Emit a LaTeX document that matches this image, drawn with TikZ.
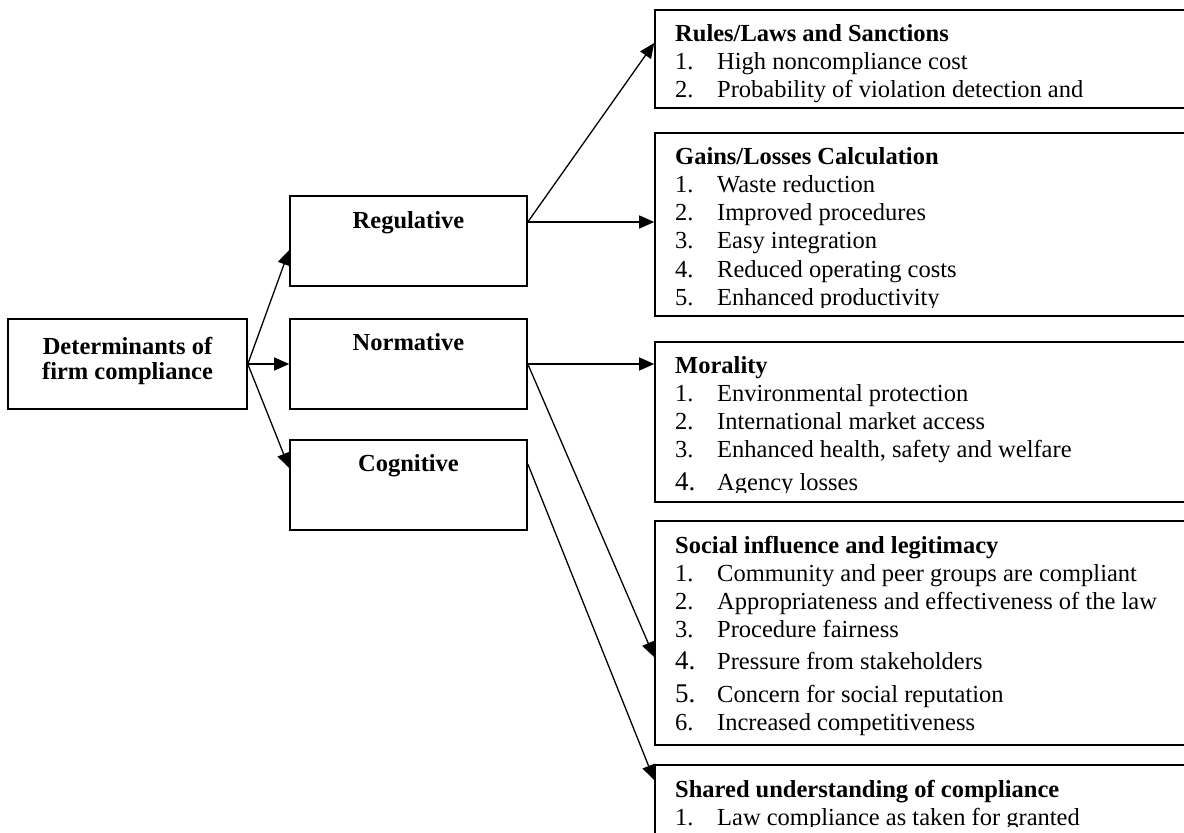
\documentclass[tikz,border=0pt]{standalone}
\usepackage{fontspec}
\setmainfont{Liberation Serif}
\usetikzlibrary{arrows.meta,calc}
% one numbered row of a list: number column, then the item text
\newcommand\listrow[2]{#1 & #2\\}
\newcommand\bignum[1]{{\fontsize{27}{28.3}\selectfont #1}}
\begin{document}
\begin{tikzpicture}[x=1pt,y=-1pt,
  box/.style={draw, line width=1.6pt, rectangle, inner sep=0pt},
  leftbox/.style={box, minimum width=237pt, minimum height=90pt},
  rightbox/.style={box, minimum width=545pt},
  conn/.style={line width=1.3pt, -{Triangle[length=15pt,width=13pt]}},
  head/.style={anchor=base, inner sep=0pt, font=\fontsize{24.5}{25}\selectfont\bfseries},
  listtext/.style={anchor=base west, inner sep=0pt, font=\fontsize{24.5}{28.3}\selectfont}]
\useasboundingbox (0,0) rectangle (1184,833);
\clip (0,0) rectangle (1184,833);

% --- left column: root and the three pillars ---
\node[box, minimum width=239pt, minimum height=90pt] (det) at (127.5,364) {};
\node[head] (dett) at (127.5,354) {\begin{tabular}[t]{@{}c@{}}Determinants of\\firm compliance\end{tabular}};

\node[leftbox] (reg) at (408.5,241) {};
\node[head] (regt) at (408.5,228.6) {Regulative};
\node[leftbox] (nor) at (408.5,364) {};
\node[head] (nort) at (408.5,350.6) {Normative};
\node[leftbox] (cog) at (408.5,485) {};
\node[head] (cogt) at (408.5,471.6) {Cognitive};

% --- right column: mechanisms ---
\node[rightbox, minimum height=98pt]  (rules)  at (927.5,59)  {};
\node[rightbox, minimum height=183pt] (gains)  at (927.5,224.5) {};
\node[rightbox, minimum height=160pt] (moral)  at (927.5,422) {};
\node[rightbox, minimum height=224pt] (social) at (927.5,633) {};
\node[rightbox, minimum height=80pt]  (shared) at (927.5,805) {};

\node[listtext] (rulest) at (675,41) {\begin{tabular}[t]{@{}p{42pt}@{}l@{}}
\multicolumn{2}{@{}l@{}}{\bfseries Rules/Laws and Sanctions}\\
\listrow{1.}{High noncompliance cost}
\listrow{2.}{Probability of violation detection and}
\end{tabular}};

\begin{scope}
\clip (655,133) rectangle (1200,307);
\node[listtext] (gainst) at (675,164) {\begin{tabular}[t]{@{}p{42pt}@{}l@{}}
\multicolumn{2}{@{}l@{}}{\bfseries Gains/Losses Calculation}\\
\listrow{1.}{Waste reduction}
\listrow{2.}{Improved procedures}
\listrow{3.}{Easy integration}
\listrow{4.}{Reduced operating costs}
\listrow{5.}{Enhanced productivity}
\end{tabular}};
\end{scope}

\begin{scope}
\clip (655,342) rectangle (1200,492);
\node[listtext] (moralt) at (675,373) {\begin{tabular}[t]{@{}p{42pt}@{}l@{}}
\multicolumn{2}{@{}l@{}}{\bfseries Morality}\\
\listrow{1.}{Environmental protection}
\listrow{2.}{International market access}
3. & Enhanced health, safety and welfare\\[4pt]
\listrow{\bignum{4.}}{Agency losses}
\end{tabular}};
\end{scope}

\node[listtext] (socialt) at (675,553) {\begin{tabular}[t]{@{}p{42pt}@{}l@{}}
\multicolumn{2}{@{}l@{}}{\bfseries Social influence and legitimacy}\\
\listrow{1.}{Community and peer groups are compliant}
\listrow{2.}{Appropriateness and effectiveness of the law}
3. & Procedure fairness\\[3pt]
\bignum{4.} & Pressure from stakeholders\\[5pt]
\listrow{\bignum{5.}}{Concern for social reputation}
\listrow{6.}{Increased competitiveness}
\end{tabular}};

\begin{scope}
\clip (655,765) rectangle (1200,826);
\node[listtext] (sharedt) at (675,797) {\begin{tabular}[t]{@{}p{42pt}@{}l@{}}
\multicolumn{2}{@{}l@{}}{\bfseries Shared understanding of compliance}\\
\listrow{1.}{Law compliance as taken for granted}
\end{tabular}};
\end{scope}

% --- connector end points on the box sides ---
\coordinate (regin)    at ($(reg.west)+(0,9)$);
\coordinate (cogin)    at ($(cog.west)+(0,-17)$);
\coordinate (regout)   at ($(reg.east)+(0,-19)$);
\coordinate (rulesin)  at ($(rules.west)+(0,-16)$);
\coordinate (cogout)   at ($(cog.east)+(0,-21)$);
\coordinate (socialin) at ($(social.west)+(0,24)$);
\coordinate (sharedin) at ($(shared.west)+(0,-25)$);

% --- connectors ---
\draw[conn] (det.east) -- (regin);
\draw[conn] (det.east) -- (nor.west);
\draw[conn] (det.east) -- (cogin);
\draw[conn] (regout) -- (rulesin);
\draw[conn] (regout) -- (gains.west |- regout);
\draw[conn] (nor.east) -- (moral.west |- nor.east);
\draw[conn] (nor.east) -- (socialin);
\draw[conn] (cogout) -- (sharedin);
\end{tikzpicture}
\end{document}
